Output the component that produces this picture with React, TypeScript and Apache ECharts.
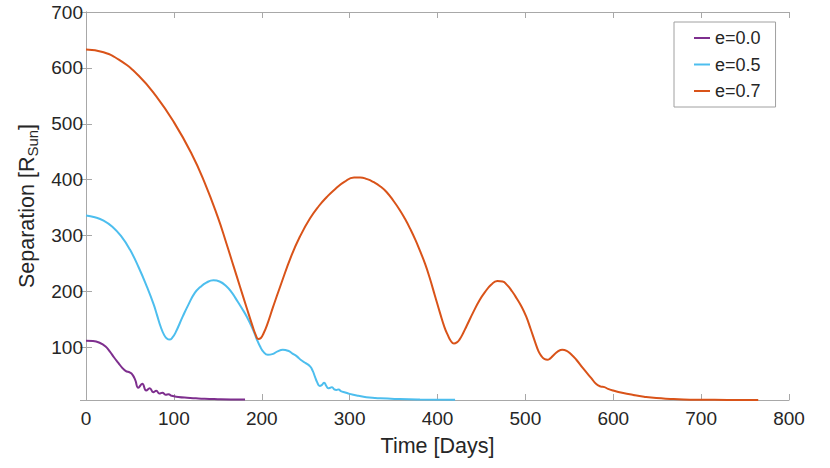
import React, { useEffect, useRef } from "react";
import * as echarts from "echarts";

// ---- data ----
const legendNames = ["e=0.0", "e=0.5", "e=0.7"];
const xTicks = [0, 100, 200, 300, 400, 500, 600, 700, 800];
const yTicks = [100, 200, 300, 400, 500, 600, 700];

const e00Time = [0, 8, 16, 22, 27, 32, 37, 41, 45, 50, 53, 56, 59.5, 64, 68.5, 72.5, 76.5, 80, 83.5, 87, 90.5, 94, 97.5, 105, 115, 125, 135, 150, 165, 181];
const e00Sep = [112, 111.5, 108, 102, 93, 82, 72, 64, 58, 55, 51, 42, 28, 35, 23, 27, 20, 22.5, 17.5, 19, 15.5, 16.3, 13.5, 11.5, 10, 9, 8.2, 7.5, 7, 6.8];

const e05Time = [0, 10, 20, 30, 40, 50, 60, 70, 77, 81, 85, 89, 92, 95, 98, 102, 110, 117, 124, 130, 137, 145, 152, 160, 166, 171, 177, 183, 190, 194, 198, 202, 207, 212, 218, 224, 230, 235, 240, 245, 250, 255, 258, 260.5, 263, 266, 268.5, 271, 273.5, 275.7, 278, 280, 282.5, 285, 287.5, 290, 295, 300, 310, 319, 335, 357, 380, 420];
const e05Sep = [336, 333, 327, 316, 299, 275, 243, 206, 177, 157, 137, 122, 116, 114, 117, 127, 155, 178, 198, 208, 216, 220, 218, 209, 198, 186, 171, 155, 132, 116, 102, 92, 87, 88, 93, 96, 94, 89, 84, 77, 72, 66, 58, 48, 38, 31, 33, 37, 31, 27, 28, 29, 25, 24, 25, 22, 19.5, 17, 13.5, 11, 9, 7.7, 7, 6.5];

const e07Time = [0, 20, 40, 60, 80, 100, 120, 135, 150, 160, 168, 175, 183, 190, 193, 196, 199, 202, 206, 213, 221, 234, 244, 255, 265, 274, 284, 294, 305, 312, 320, 327, 335, 342, 350, 357, 363, 369, 375, 380, 386, 391, 397, 403, 408, 412, 415, 418.7, 422, 425, 429, 433, 441, 448, 454, 461, 468, 474, 479, 485, 490, 496, 501, 506, 511, 515, 518.5, 522, 525, 528, 532, 537, 542, 547, 552, 558, 566, 575, 581, 586, 590, 594, 600, 610, 623, 635, 649, 665, 680, 700, 730, 765];
const e07Sep = [633, 628, 612, 586, 549, 503, 447, 395, 333, 285, 245, 210, 170, 136, 123, 115, 117, 125, 140, 173, 209, 265, 300, 331, 353, 369, 384, 396, 404, 404, 401, 396, 388, 378, 362, 346, 330, 312, 292, 273, 249, 225, 193, 161, 136, 121, 112, 107, 109, 114, 125, 138, 164, 185, 199, 212, 219, 218, 212, 200, 188, 172, 155, 133, 110, 93, 84, 79, 78, 80, 86, 93, 96, 94, 88, 78, 62, 45, 34, 30, 29, 26, 23, 19, 15, 12, 9.5, 8, 7, 6.5, 6.2, 6];

const colors = ["#7E2F8E", "#4DBEEE", "#D95319"];
const FONT = "'Liberation Sans', Arial, Helvetica, sans-serif";
const TXT = "#262626";
const AXC = "#a8a8a8";

const zip = (t: number[], v: number[]) => t.map((x, i) => [x, v[i]]);

export default function App() {
  const ref = useRef<HTMLDivElement>(null);
  useEffect(() => {
    document.body.style.margin = "0";
    if (!ref.current) return;
    const chart = echarts.init(ref.current, null, { renderer: "svg" });
    const xMin = xTicks[0];
    const xMax = xTicks[xTicks.length - 1];
    const yMin = 6;
    const yMax = yTicks[yTicks.length - 1];
    const axisCommon = {
      axisLine: { show: true, lineStyle: { color: AXC, width: 1 } },
      axisTick: { show: true, inside: true, length: 6, lineStyle: { color: AXC, width: 1 } },
      splitLine: { show: false },
    };
    const series = [
      zip(e00Time, e00Sep),
      zip(e05Time, e05Sep),
      zip(e07Time, e07Sep),
    ].map((d, i) => ({
      name: legendNames[i],
      type: "line",
      data: d,
      xAxisIndex: 0,
      yAxisIndex: 0,
      symbol: "none",
      smooth: 0.5,
      lineStyle: { color: colors[i], width: 2 },
      itemStyle: { color: colors[i] },
      z: 3 + i,
    }));
    chart.setOption({
      animation: false,
      backgroundColor: "#ffffff",
      textStyle: { fontFamily: FONT },
      grid: { left: 86, right: 41, top: 12, bottom: 68, containLabel: false },
      legend: {
        data: legendNames.map((n) => ({ name: n, icon: "rect" })),
        orient: "vertical",
        left: 674,
        top: 22,
        padding: [7, 15, 7, 20],
        itemGap: 8.5,
        itemWidth: 16,
        itemHeight: 2,
        backgroundColor: "#ffffff",
        borderColor: "#a0a0a0",
        borderWidth: 1,
        borderRadius: 0,
        textStyle: { fontSize: 18, color: TXT, fontFamily: FONT },
      },
      xAxis: [
        {
          type: "value",
          position: "bottom",
          min: xMin,
          max: xMax,
          interval: 100,
          ...axisCommon,
          axisLabel: { fontSize: 19, color: TXT, margin: 9, fontFamily: FONT },
          name: "Time [Days]",
          nameLocation: "middle",
          nameGap: 35,
          nameTextStyle: { fontSize: 21.5, color: TXT, fontFamily: FONT },
        },
        {
          type: "value",
          position: "top",
          min: xMin,
          max: xMax,
          interval: 100,
          ...axisCommon,
          axisLabel: { show: false },
        },
      ],
      yAxis: [
        {
          type: "value",
          position: "left",
          min: yMin,
          max: yMax,
          splitNumber: 7,
          ...axisCommon,
          axisLabel: {
            fontSize: 19,
            color: TXT,
            margin: 3,
            fontFamily: FONT,
            formatter: (v: number) => (yTicks.includes(Math.round(v)) && Math.abs(v - Math.round(v)) < 1e-6 ? String(v) : ""),
          },
          name: "{a|Separation [R}{b|Sun}{a|]}",
          nameLocation: "middle",
          nameGap: 38,
          nameTextStyle: {
            color: TXT,
            fontFamily: FONT,
            rich: {
              a: { fontSize: 21.5, color: TXT, fontFamily: FONT },
              b: { fontSize: 15, color: TXT, fontFamily: FONT, padding: [12, 0, 0, 0] },
            },
          },
        },
        {
          type: "value",
          position: "right",
          min: yMin,
          max: yMax,
          splitNumber: 7,
          ...axisCommon,
          axisLabel: { show: false },
        },
      ],
      series,
    });
    return () => chart.dispose();
  }, []);
  return <div ref={ref} style={{ width: 830, height: 468 }} />;
}
